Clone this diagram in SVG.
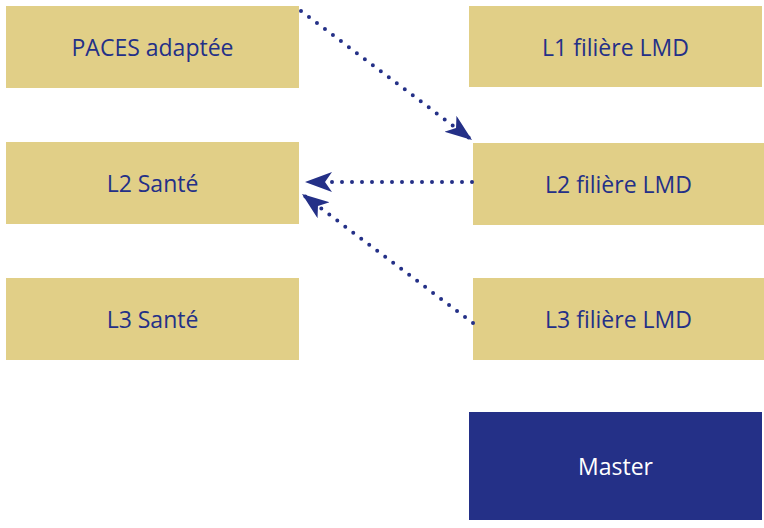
<svg xmlns="http://www.w3.org/2000/svg" width="764" height="528" viewBox="0 0 764 528">
  <style>
    .box { fill: #E1CF87; }
    .dark { fill: #243087; }
    .label { font-family: "Open Sans", "Liberation Sans", sans-serif; font-size: 23px; fill: #243087; text-anchor: middle; }
    .light { fill: #ffffff; }
    .link { fill: none; stroke: #243087; stroke-width: 4; stroke-linecap: round; stroke-dasharray: 0 10; }
  </style>
  <defs>
    <marker id="arrow" markerUnits="userSpaceOnUse" markerWidth="30" markerHeight="22" refX="27" refY="10" orient="auto">
      <path d="M27,10 L0,0 L7,10 L0,20 Z" fill="#243087"/>
    </marker>
  </defs>
  <rect width="764" height="528" fill="#ffffff"/>

  <g id="paces">
    <rect class="box" x="6" y="6" width="293" height="82"/>
    <text class="label" x="152.5" y="56">PACES adaptée</text>
  </g>
  <g id="l1-lmd">
    <rect class="box" x="469" y="6" width="293" height="81"/>
    <text class="label" x="615.5" y="56">L1 filière LMD</text>
  </g>
  <g id="l2-sante">
    <rect class="box" x="6" y="142" width="293" height="82"/>
    <text class="label" x="152.5" y="192">L2 Santé</text>
  </g>
  <g id="l2-lmd">
    <rect class="box" x="473" y="143" width="291" height="82"/>
    <text class="label" x="618.5" y="193">L2 filière LMD</text>
  </g>
  <g id="l3-sante">
    <rect class="box" x="6" y="278" width="293" height="82"/>
    <text class="label" x="152.5" y="328">L3 Santé</text>
  </g>
  <g id="l3-lmd">
    <rect class="box" x="473" y="278" width="291" height="82"/>
    <text class="label" x="618.5" y="328">L3 filière LMD</text>
  </g>
  <g id="master">
    <rect class="dark" x="469" y="412" width="293" height="108"/>
    <text class="label light" x="615.5" y="475">Master</text>
  </g>

  <g id="connectors">
    <line class="link" x1="301" y1="11" x2="472" y2="140" marker-end="url(#arrow)"/>
    <line class="link" x1="472" y1="182" x2="305" y2="182" marker-end="url(#arrow)"/>
    <line class="link" x1="473" y1="323" x2="302" y2="194" marker-end="url(#arrow)"/>
  </g>
</svg>
